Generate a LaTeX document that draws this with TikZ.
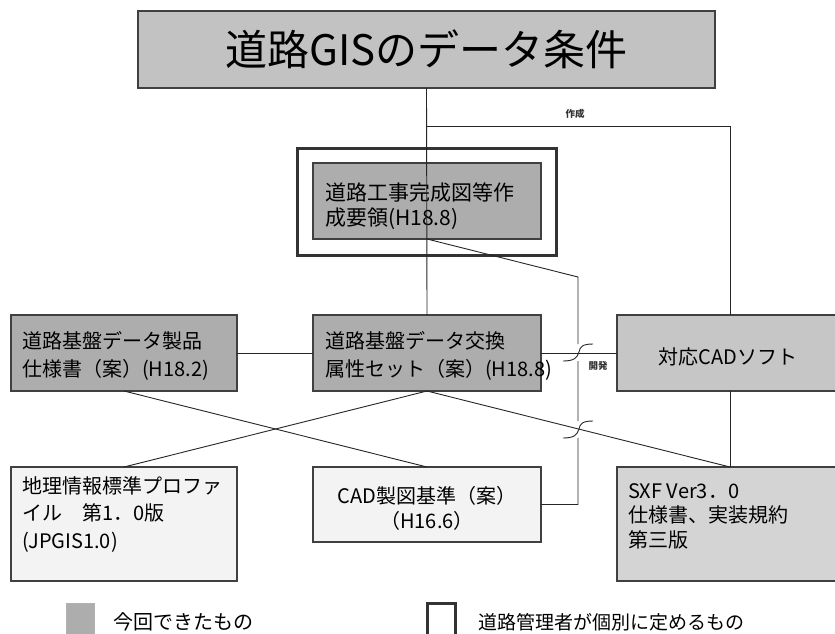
\documentclass[tikz,border=0pt]{standalone}
\usepackage{fontspec}
\setmainfont{Noto Sans CJK JP}
\definecolor{gTitle}{HTML}{C2C2C2}
\definecolor{gDark}{HTML}{ADADAD}
\definecolor{gMid}{HTML}{C6C6C6}
\definecolor{gLight}{HTML}{D4D4D4}
\definecolor{gPale}{HTML}{F3F3F3}
\definecolor{edge}{HTML}{404040}
\begin{document}
\begin{tikzpicture}[x=1pt,y=-1pt,
  box/.style={draw=edge, line width=1.1pt, rectangle, inner sep=0pt, outer sep=0pt, anchor=north west},
  conn/.style={draw=black!85, line width=0.9pt},
  txt/.style={inner sep=0pt, outer sep=0pt, align=left, anchor=base west, font=\fontsize{20}{28}\selectfont},
  small/.style={inner sep=0pt, font=\fontsize{9.5}{10}\selectfont\bfseries, text=black!80},
]
\clip (0,0) rectangle (835,633);
\fill[white] (0,0) rectangle (835,633);
% boxes
\node[box, fill=gTitle, minimum width=577pt, minimum height=77pt, font=\fontsize{42}{42}\selectfont] (title) at (138,11) {道路GISのデータ条件};
\node[box, fill=white, line width=3pt, draw=black!80, minimum width=259pt, minimum height=107pt] (frame) at (297,148) {};
\node[box, fill=gDark, minimum width=228pt, minimum height=76pt] (koji) at (313,163) {};
\node[box, fill=gDark, minimum width=226pt, minimum height=76pt] (seihin) at (11,315) {};
\node[box, fill=gDark, minimum width=228pt, minimum height=76pt] (koukan) at (313,315) {};
\node[box, fill=gMid, minimum width=230pt, minimum height=76pt] (cadsoft) at (617,315) {};
\node[box, fill=gPale, minimum width=226pt, minimum height=114pt] (chiri) at (11,467) {};
\node[box, fill=gPale, minimum width=228pt, minimum height=75pt] (cadzu) at (313,467) {};
\node[box, fill=gLight, minimum width=230pt, minimum height=114pt] (sxf) at (617,467) {};
% texts (anchored at the baseline of the last line)
\node[txt, font=\fontsize{21}{25}\selectfont] (kojit) at (325,225) {道路工事完成図等作\\成要領(H18.8)};
\node[txt] (seihint) at (22,376) {道路基盤データ製品\\仕様書（案）(H18.2)};
\node[txt] (koukant) at (325,376) {道路基盤データ交換\\属性セット（案）(H18.8)};
\node[inner sep=0pt, font=\fontsize{20}{24}\selectfont] (cadsoftt) at (728,357) {対応CADソフト};
\node[txt, font=\fontsize{20}{27.5}\selectfont] (chirit) at (22,548) {地理情報標準プロファ\\イル　第1．0版\\(JPGIS1.0)};
\node[txt, align=center, anchor=base, font=\fontsize{20}{25}\selectfont] (cadzut) at (427,528) {CAD製図基準（案）\\（H16.6）};
\node[txt, font=\fontsize{20}{24.5}\selectfont] (sxft) at (628,547) {SXF Ver3．0\\仕様書、実装規約\\第三版};
% connector points
\coordinate (c1) at (427,126);
\coordinate (c2) at (730,126);
\coordinate (j0) at (578,277);
% connectors
\draw[conn] (title.south) -- (koukan.north);
\draw[conn] (c1) -- (c2) -- (c2 |- cadsoft.north);
\draw[conn] (seihin.east) -- (koukan.west);
\draw[conn] (koukan.east) -- (cadsoft.west);
\draw[conn] (c2 |- cadsoft.south) -- (c2 |- sxf.north);
\draw[conn] (seihin.south) -- (cadzu.north);
\draw[conn] (chiri.north) -- (koukan.south);
\draw[conn] (koukan.south) -- (c2 |- sxf.north);
\draw[conn] (koji.south) -- (j0) -- (578,344)
  (593,344) .. controls (582,344) and (580,347) .. (579,352) .. controls (577,358) and (574,361) .. (563,361)
  (578,361) -- (578,421)
  (593,421) .. controls (582,421) and (580,424) .. (579,429) .. controls (577,435) and (574,438) .. (563,438)
  (578,438) -- (j0 |- cadzu.east) -- (cadzu.east);
% labels
\node[small] (lsakusei) at (575,114) {作成};
\node[small] (lkaihatsu) at (598,366) {開発};
% legend
\node[box, fill=gDark, draw=black!30, line width=0.8pt, minimum width=28pt, minimum height=40pt] (leg1) at (66,603) {};
\node[txt, anchor=west, font=\fontsize{20}{24}\selectfont] (leg1t) at (113,622) {今回できたもの};
\node[box, fill=white, draw=black!80, line width=3pt, minimum width=28pt, minimum height=40pt] (leg2) at (427,603) {};
\node[txt, anchor=west, font=\fontsize{19}{24}\selectfont] (leg2t) at (478,622) {道路管理者が個別に定めるもの};
\end{tikzpicture}
\end{document}
